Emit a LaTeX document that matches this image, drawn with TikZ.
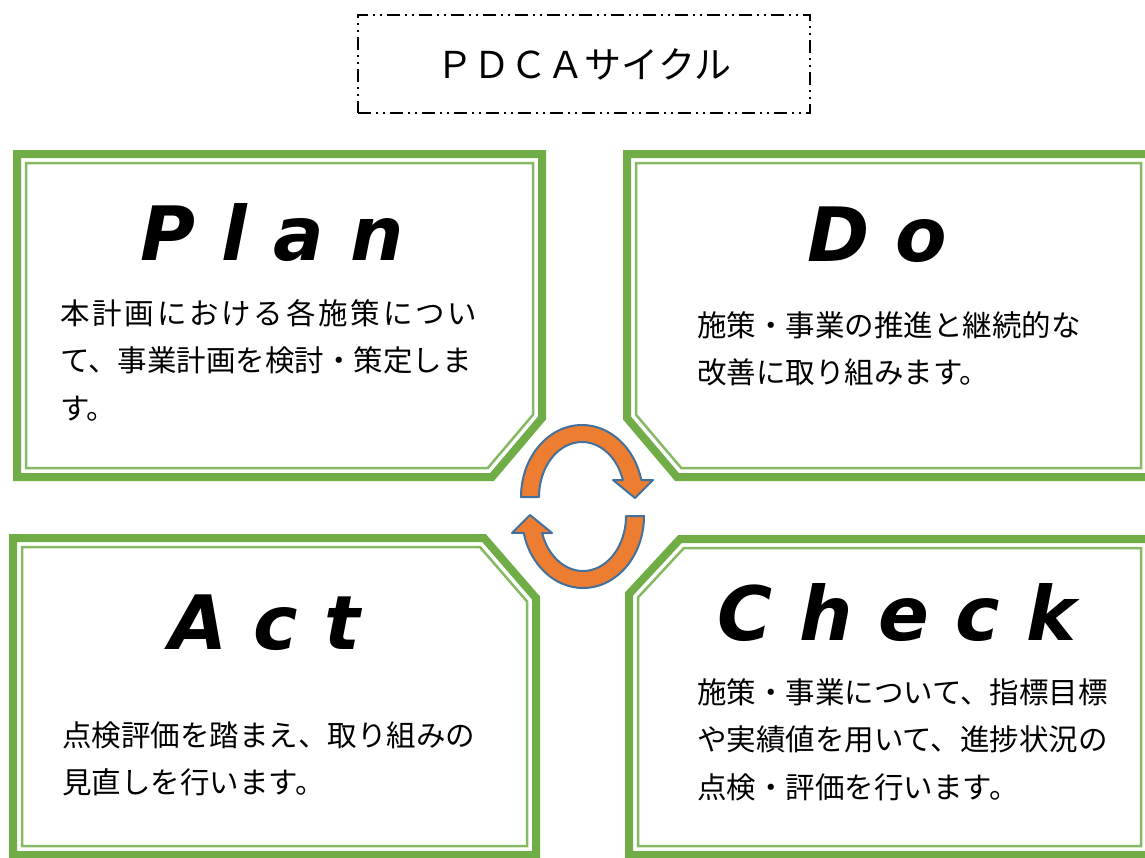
\documentclass[tikz,border=0pt]{standalone}
\usepackage{fontspec}
\setmainfont{Noto Sans CJK JP}
\newfontfamily\headfont{DejaVu Sans}
\usepackage{tikz}
\usetikzlibrary{positioning,calc}
\definecolor{leaf}{HTML}{70AD47}
\definecolor{ring}{HTML}{ED7D31}
\definecolor{ringline}{HTML}{41719C}
\tikzset{
  outerframe/.style={draw=leaf, line width=8pt, line join=miter},
  innerframe/.style={draw=leaf!85, line width=2.5pt, line join=miter},
  titlebox/.style={draw, line width=1.3pt, minimum width=452pt, minimum height=98pt,
    dash pattern=on 13pt off 5pt on 2pt off 5pt on 2pt off 5pt, inner sep=0pt},
  head/.style={font=\headfont\bfseries\itshape\fontsize{75}{80}\selectfont, anchor=base, inner sep=0pt},
  body/.style={font=\fontsize{29.5}{47.5}\selectfont, anchor=base west, align=left,
    text width=470pt, inner sep=0pt},
  cyclearrow/.style={fill=ring, draw=ringline, line width=2pt, line join=round},
}

\begin{document}
\begin{tikzpicture}[x=1pt, y=-1pt]
  \useasboundingbox (0,0) rectangle (1145,857);
  \clip (0,0) rectangle (1145,857);

  % title
  \node[titlebox] (title) at (584,64) {\fontsize{37}{40}\selectfont ＰＤＣＡサイクル};

  % frames
  \draw[outerframe] (17,154) -- (542,154) -- (542,418) -- (492,477) -- (17,477) -- cycle;
  \draw[innerframe] (26,163) -- (533,163) -- (533,414.7) -- (487.8,468) -- (26,468) -- cycle;

  \draw[outerframe] (627,154) -- (1150,154) -- (1150,477) -- (677,477) -- (627,418) -- cycle;
  \draw[innerframe] (636,163) -- (1141,163) -- (1141,468) -- (681.2,468) -- (636,414.7) -- cycle;

  \draw[outerframe] (13,538) -- (484,538) -- (536,598) -- (536,855) -- (13,855) -- cycle;
  \draw[innerframe] (22,547) -- (479.9,547) -- (527,601.4) -- (527,846) -- (22,846) -- cycle;

  \draw[outerframe] (629,594) -- (680,539) -- (1150,539) -- (1150,855) -- (629,855) -- cycle;
  \draw[innerframe] (638,597.5) -- (683.9,548) -- (1141,548) -- (1141,846) -- (638,846) -- cycle;

  % headings
  \node[head] (planhead) at (272,260) {P l a n};
  \node[head] (dohead) at (877,261) {D o};
  \node[head] (acthead) at (265,649) {A c t};
  \node[head] (checkhead) at (897,640) {C h e c k};

  % texts
  \node[body] (plantext) at (60,324)
    {{\addfontfeature{LetterSpace=9.5}本計画における各施策につい}\\
     て、事業計画を検討・策定しま\\
     す。};
  \node[body] (dotext) at (697,336)
    {施策・事業の推進と継続的な\\
     改善に取り組みます。};
  \node[body] (acttext) at (62,746)
    {点検評価を踏まえ、取り組みの\\
     見直しを行います。};
  \node[body] (checktext) at (697,703)
    {施策・事業について、指標目標\\
     や実績値を用いて、進捗状況の\\
     点検・評価を行います。};

  % cycle arrows
  \draw[cyclearrow] (521,497) arc[start angle=180, end angle=346.4, x radius=61, y radius=72]
    -- (653,480) -- (635,498) -- (613,480) -- (622.9,480)
    arc[start angle=342, end angle=180, x radius=43, y radius=55] -- cycle;
  \draw[cyclearrow, rotate around={180:(582.5,506.5)}] (521,497)
    arc[start angle=180, end angle=346.4, x radius=61, y radius=72]
    -- (653,480) -- (635,498) -- (613,480) -- (622.9,480)
    arc[start angle=342, end angle=180, x radius=43, y radius=55] -- cycle;
\end{tikzpicture}
\end{document}
